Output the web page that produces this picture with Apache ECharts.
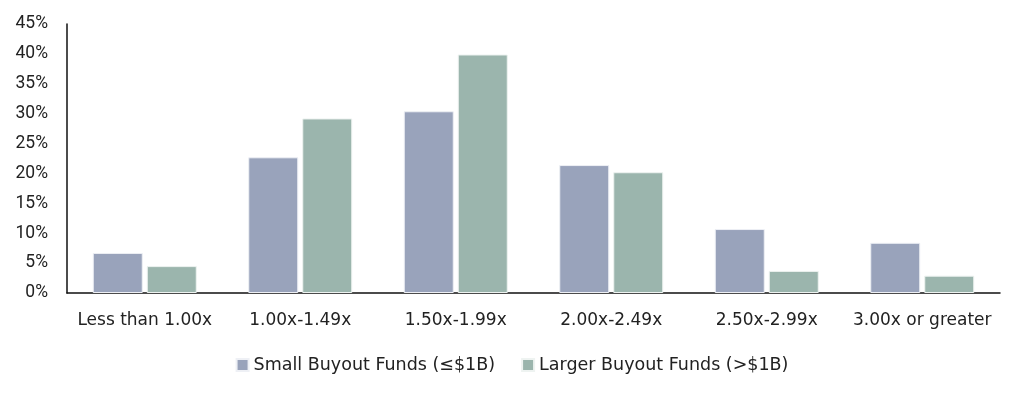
<!DOCTYPE html>
<html><head><meta charset="utf-8">
<script src="https://cdn.jsdelivr.net/npm/echarts@6/dist/echarts.min.js"></script>
<style>html,body{margin:0;padding:0;background:#fff}#c{width:1024px;height:394px}</style>
</head><body><div id="c"></div>
<script>
const categories = ['Less than 1.00x','1.00x-1.49x','1.50x-1.99x','2.00x-2.49x','2.50x-2.99x','3.00x or greater'];
const smallFunds = [6.7, 22.7, 30.4, 21.4, 10.7, 8.4];
const largerFunds = [4.5, 29.2, 39.9, 20.2, 3.7, 2.9];
const seriesNames = ['Small Buyout Funds (≤$1B)', 'Larger Buyout Funds (>$1B)'];
const yTicks = [0,5,10,15,20,25,30,35,40,45];

const font = '"DejaVu Sans", sans-serif';
const chart = echarts.init(document.getElementById('c'), null, {renderer:'canvas'});
chart.setOption({
  animation:false,
  grid:{left:67,right:24,top:24,bottom:101,containLabel:false},
  legend:{
    data:seriesNames, top:351, left:'center', itemWidth:12, itemHeight:12, itemGap:26,
    icon:'rect', textStyle:{fontFamily:font,fontSize:17.5,color:'#222'}
  },
  xAxis:{
    type:'category', data:categories,
    axisLine:{lineStyle:{color:'#111',width:1.5}},
    axisTick:{show:false},
    axisLabel:{fontFamily:font,fontSize:17,color:'#222',margin:19,interval:0}
  },
  yAxis:{
    type:'value', min:yTicks[0], max:yTicks[yTicks.length-1], interval:5,
    axisLine:{show:true,lineStyle:{color:'#111',width:1.5}},
    axisTick:{show:false},
    splitLine:{show:false},
    axisLabel:{fontFamily:'Roboto, sans-serif',fontSize:17.5,color:'#222',margin:19,formatter:v=>v+'%'}
  },
  series:[
    {name:seriesNames[0],type:'bar',data:smallFunds,barWidth:50,barGap:'8%',
     itemStyle:{color:'#99a3bb',borderColor:'#eef0f5',borderWidth:1}},
    {name:seriesNames[1],type:'bar',data:largerFunds,barWidth:50,
     itemStyle:{color:'#9bb5ad',borderColor:'#eef3f1',borderWidth:1}}
  ]
});
</script></body></html>
